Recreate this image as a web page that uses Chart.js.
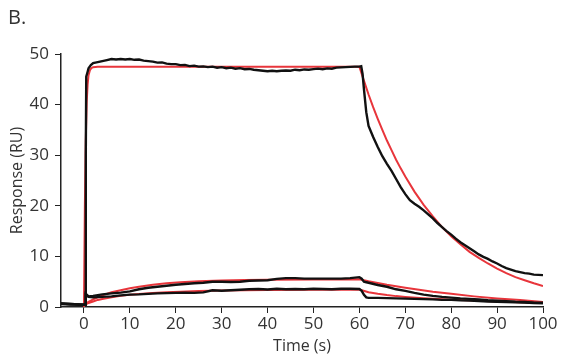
<!DOCTYPE html>
<html>
<head>
<meta charset="utf-8">
<script src="https://cdn.jsdelivr.net/npm/chart.js@4"></script>
<style>
  html, body { margin: 0; padding: 0; background: #fff; }
  #wrap { position: relative; width: 570px; height: 361px; }
  #panel { position: absolute; left: 8px; top: 3px; font: 20px "Open Sans", sans-serif; color: #333; }
</style>
</head>
<body>
<div id="wrap">
  <div id="panel">B.</div>
  <canvas id="spr" width="570" height="361"></canvas>
</div>
<script>
// ---- data ----
const xTicks = [0, 10, 20, 30, 40, 50, 60, 70, 80, 90, 100];
const yTicks = [0, 10, 20, 30, 40, 50];

// high concentration, measured
const tHigh = [-5, -4, -3, -2, -1, 0, 0.3, 0.4, 0.5, 0.8, 1, 1.5, 2, 3, 4, 5, 6, 7, 8, 9, 10,
  11, 12, 13, 14, 15, 16, 17, 18, 19, 20, 21, 22, 23, 24, 25, 26, 27, 28, 29, 30,
  31, 32, 33, 34, 35, 36, 37, 38, 39, 40, 41, 42, 43, 44, 45, 46, 47, 48, 49, 50,
  51, 52, 53, 54, 55, 56, 57, 58, 59, 60, 60.4, 60.7, 61, 61.5, 62, 63, 64, 65, 66, 67, 68, 69, 70,
  71, 72, 73, 74, 75, 76, 77, 78, 79, 80, 81, 82, 83, 84, 85, 86, 87, 88, 89, 90,
  91, 92, 93, 94, 95, 96, 97, 98, 99, 100];
const rHigh = [0.6, 0.55, 0.5, 0.5, 0.45, 0.45, 0.5, 30, 45.5, 46.5, 47.2, 47.8, 48.2, 48.4, 48.6, 48.8, 49.0, 48.9, 49.0, 48.9, 49.0,
  48.85, 48.9, 48.7, 48.6, 48.5, 48.3, 48.35, 48.1, 48.0, 48.0, 47.8, 47.85, 47.6, 47.7, 47.5, 47.55, 47.4, 47.5, 47.3, 47.4,
  47.2, 47.3, 47.1, 47.2, 47.0, 47.05, 46.9, 46.8, 46.7, 46.6, 46.7, 46.6, 46.7, 46.75, 46.7, 46.9, 46.8, 46.95, 46.9, 47.0,
  47.1, 47.0, 47.15, 47.1, 47.3, 47.35, 47.4, 47.45, 47.5, 47.5, 47.6, 46.0, 43.0, 38.5, 35.8, 33.6, 31.6, 29.8, 28.3, 26.9, 25.3, 23.7, 22.3,
  21.1, 20.4, 19.8, 19.1, 18.3, 17.5, 16.6, 15.8, 15.0, 14.3, 13.5, 12.8, 12.2, 11.6, 11.0, 10.4, 9.9, 9.5, 9.0, 8.6,
  8.1, 7.7, 7.4, 7.1, 6.9, 6.7, 6.6, 6.4, 6.35, 6.3];

// high concentration, fit
const tHighFit = [0, 0.2, 0.4, 0.6, 0.8, 1, 1.3, 1.6, 2, 3, 60, 61, 62, 63, 64, 65, 66, 67, 68, 69, 70,
  72, 74, 76, 78, 80, 82, 84, 86, 88, 90, 92, 94, 96, 98, 100];
const rHighFit = [0, 20, 33, 40.5, 44, 45.8, 46.8, 47.2, 47.4, 47.5, 47.5, 44.7, 42.0, 39.5, 37.2, 35.0, 32.9, 31.0, 29.1, 27.4, 25.8,
  22.8, 20.2, 17.9, 15.8, 14.0, 12.4, 10.9, 9.7, 8.6, 7.6, 6.7, 5.9, 5.3, 4.7, 4.15];

// low concentrations, measured
const tLow = [-5, -4, -3, -2, -1, 0, 0.3, 0.4, 1, 2, 4, 6, 8, 10, 12, 14, 16, 18, 20,
  22, 24, 26, 28, 30, 32, 34, 36, 38, 40, 42, 44, 46, 48, 50, 52, 54, 56, 58, 60,
  60.5, 61, 61.5, 62, 64, 66, 68, 70, 72, 74, 76, 78, 80, 82, 84, 86, 88, 90, 92, 94, 96, 98, 100];
const rLowA = [0.7, 0.65, 0.6, 0.55, 0.5, 0.45, 0.5, 2.6, 2.1, 2.2, 2.5, 2.7, 2.85, 3.1, 3.5, 3.8, 4.0, 4.2, 4.4,
  4.55, 4.7, 4.8, 5.0, 5.0, 4.95, 5.0, 5.2, 5.25, 5.3, 5.55, 5.7, 5.7, 5.6, 5.6, 5.6, 5.6, 5.6, 5.7, 5.9,
  5.6, 5.0, 4.9, 4.8, 4.35, 4.0, 3.5, 3.2, 2.8, 2.45, 2.2, 2.0, 1.85, 1.7, 1.6, 1.5, 1.35, 1.25, 1.15, 1.05, 1.0, 0.85, 0.85];
const rLowB = [0.7, 0.65, 0.6, 0.55, 0.5, 0.45, 0.5, 2.4, 2.0, 1.9, 2.0, 2.1, 2.3, 2.45, 2.5, 2.6, 2.7, 2.75, 2.8,
  2.85, 2.8, 2.9, 3.3, 3.2, 3.3, 3.4, 3.5, 3.55, 3.45, 3.6, 3.5, 3.55, 3.5, 3.6, 3.55, 3.5, 3.6, 3.6, 3.55,
  3.2, 2.4, 1.9, 1.8, 1.8, 1.75, 1.7, 1.65, 1.6, 1.55, 1.5, 1.4, 1.4, 1.3, 1.25, 1.2, 1.1, 1.05, 1.0, 0.95, 0.9, 0.8, 0.75];

// low concentrations, fit
const tLowFitA = [0, 1, 2, 3, 4, 6, 8, 10, 12, 15, 18, 21, 25, 30, 35, 40, 50, 60,
  62, 64, 66, 68, 70, 73, 76, 80, 85, 90, 95, 100];
const rLowFitA = [0.4, 1.0, 1.5, 1.9, 2.3, 2.9, 3.3, 3.7, 4.0, 4.4, 4.7, 4.9, 5.1, 5.25, 5.35, 5.4, 5.45, 5.5,
  5.1, 4.75, 4.4, 4.1, 3.8, 3.4, 3.0, 2.6, 2.1, 1.7, 1.4, 1.0];
const tLowFitB = [0, 1, 2, 3, 4, 6, 8, 10, 12, 15, 18, 21, 25, 30, 40, 50, 60,
  62, 64, 66, 68, 70, 74, 78, 82, 86, 90, 95, 100];
const rLowFitB = [0.3, 0.8, 1.1, 1.4, 1.6, 1.9, 2.2, 2.4, 2.55, 2.75, 2.9, 3.0, 3.15, 3.25, 3.35, 3.4, 3.45,
  2.9, 2.6, 2.35, 2.15, 2.0, 1.75, 1.55, 1.4, 1.25, 1.1, 0.95, 0.8];

const pts = (t, r) => t.map((v, i) => ({ x: v, y: r[i] }));

const BLACK = "#111111";
const RED = "#e8353b";
const TEXT = "#333333";
const TICK_FONT = { family: "Open Sans", size: 17 };
const TITLE_FONT = { family: "Open Sans", size: 16 };

function measured(t, r) {
  return { data: pts(t, r), borderColor: BLACK, borderWidth: 2.4, pointRadius: 0, tension: 0 };
}
function fitted(t, r) {
  return { data: pts(t, r), borderColor: RED, borderWidth: 2, pointRadius: 0, tension: 0 };
}

new Chart(document.getElementById("spr"), {
  type: "line",
  data: {
    datasets: [
      measured(tHigh, rHigh),
      measured(tLow, rLowA),
      measured(tLow, rLowB),
      fitted(tHighFit, rHighFit),
      fitted(tLowFitA, rLowFitA),
      fitted(tLowFitB, rLowFitB)
    ]
  },
  options: {
    responsive: false,
    animation: false,
    layout: { padding: { top: 54, right: 27, left: 0, bottom: 0 } },
    plugins: { legend: { display: false }, tooltip: { enabled: false } },
    scales: {
      x: {
        type: "linear",
        min: -5,
        max: 100,
        afterBuildTicks: (s) => { s.ticks = xTicks.map(v => ({ value: v })); },
        afterFit: (s) => { s.height = 54; },
        ticks: { color: TEXT, font: TICK_FONT, padding: 1, maxRotation: 0 },
        grid: { drawOnChartArea: false, drawTicks: true, tickLength: 6, color: "#222" },
        border: { display: true, color: "#222", width: 1.5 },
        title: { display: true, text: "Time (s)", color: TEXT, font: TITLE_FONT, padding: { top: 0, bottom: 5 } }
      },
      y: {
        min: 0,
        max: 50,
        afterBuildTicks: (s) => { s.ticks = yTicks.map(v => ({ value: v })); },
        afterFit: (s) => { s.width = 61; },
        ticks: { color: TEXT, font: TICK_FONT, padding: 6 },
        grid: { drawOnChartArea: false, drawTicks: true, tickLength: 6, color: "#222" },
        border: { display: true, color: "#222", width: 1.5 },
        title: { display: true, text: "Response (RU)", color: TEXT, font: TITLE_FONT, padding: { top: 8, bottom: 0 } }
      }
    }
  }
});
</script>
</body>
</html>
